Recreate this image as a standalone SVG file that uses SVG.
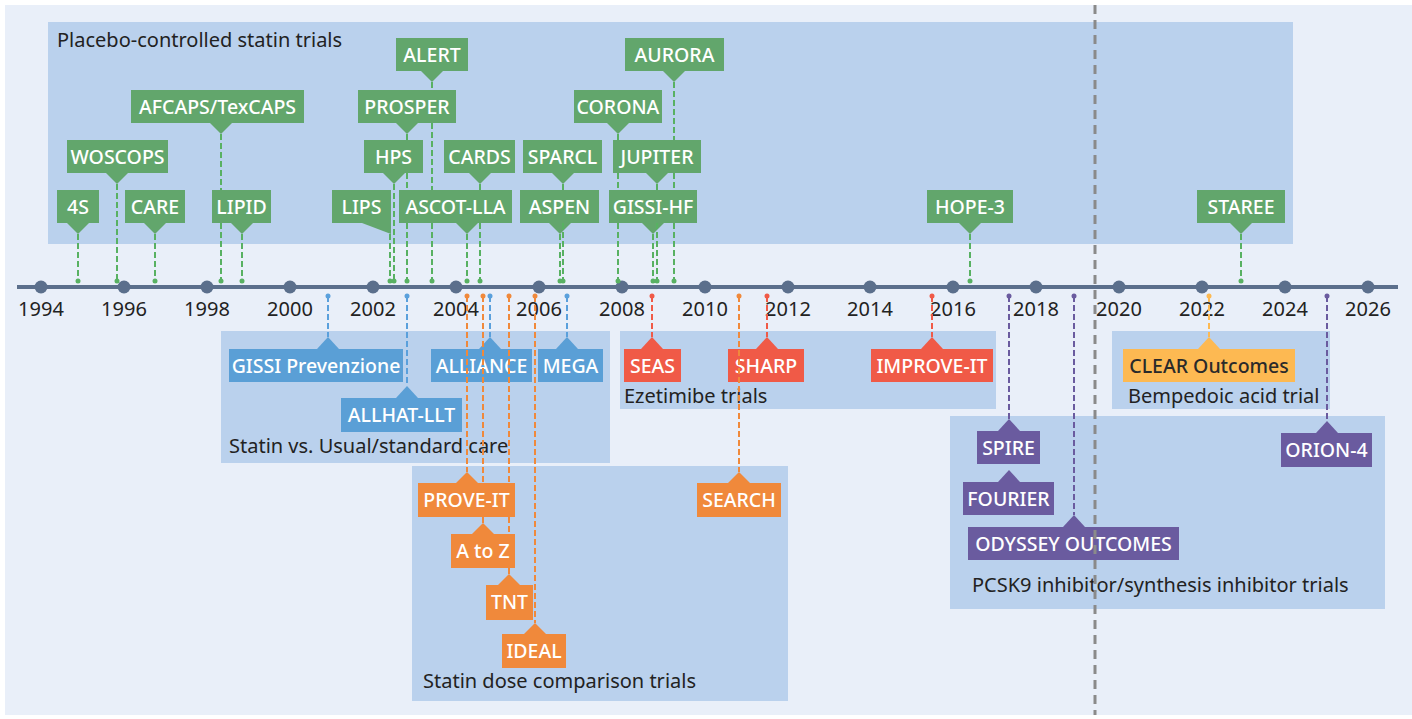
<svg xmlns="http://www.w3.org/2000/svg" width="1412" height="719" viewBox="0 0 1412 719">
<style>
text{font-family:"Noto Sans","Liberation Sans",sans-serif;}
.reg{fill:#bad1ed;}
.rl{font-size:20px;fill:#222;}
.yr{font-size:20px;fill:#222;text-anchor:middle;}
.nt{font-size:19.5px;font-weight:500;fill:#fff;text-anchor:middle;}
.g{fill:#62a66c;} .b{fill:#5a9fd6;} .o{fill:#f0893b;} .r{fill:#f05a47;} .p{fill:#6a5b9f;} .y{fill:#fdb952;}
.cg{stroke:#58b162;} .cb{stroke:#5aa0dc;} .co{stroke:#f0893b;} .cr{stroke:#f05a47;} .cp{stroke:#6a5b9f;} .cy{stroke:#fdb952;}
.c{fill:none;stroke-width:2;stroke-dasharray:6,3;}
.dg{fill:#58b162;} .db{fill:#5aa0dc;} .do{fill:#f0893b;} .dr{fill:#f05a47;} .dp{fill:#6a5b9f;} .dy{fill:#fdb952;}
.ax{fill:#5b6f8c;}
</style>
<rect x="0" y="0" width="1412" height="719" fill="#ffffff"/>
<rect x="5" y="5" width="1407" height="710" fill="#e9eff9"/>

<g id="regions">
<rect class="reg" x="48" y="22" width="1245" height="222"/>
<text class="rl" x="57" y="47">Placebo-controlled statin trials</text>
<rect class="reg" x="221" y="331" width="389" height="132"/>
<text class="rl" x="229" y="453">Statin vs. Usual/standard care</text>
<rect class="reg" x="412" y="466" width="376" height="235"/>
<text class="rl" x="423" y="688">Statin dose comparison trials</text>
<rect class="reg" x="620" y="331" width="376" height="78"/>
<text class="rl" x="624" y="403">Ezetimibe trials</text>
<rect class="reg" x="1112" y="331" width="218" height="78"/>
<text class="rl" x="1128" y="403">Bempedoic acid trial</text>
<rect class="reg" x="950" y="416" width="435" height="193"/>
<text class="rl" x="972" y="592">PCSK9 inhibitor/synthesis inhibitor trials</text>
</g>

<g id="timeline">
<rect class="ax" x="17" y="285" width="1381" height="4"/>
<g class="ax">
<circle cx="41" cy="287" r="6.5"/><circle cx="124" cy="287" r="6.5"/><circle cx="207" cy="287" r="6.5"/><circle cx="290" cy="287" r="6.5"/>
<circle cx="373" cy="287" r="6.5"/><circle cx="456" cy="287" r="6.5"/><circle cx="539" cy="287" r="6.5"/><circle cx="622" cy="287" r="6.5"/>
<circle cx="705" cy="287" r="6.5"/><circle cx="788" cy="287" r="6.5"/><circle cx="870" cy="287" r="6.5"/><circle cx="953" cy="287" r="6.5"/>
<circle cx="1036" cy="287" r="6.5"/><circle cx="1119" cy="287" r="6.5"/><circle cx="1202" cy="287" r="6.5"/><circle cx="1285" cy="287" r="6.5"/>
<circle cx="1368" cy="287" r="6.5"/>
</g>
<text class="yr" x="41" y="316">1994</text><text class="yr" x="124" y="316">1996</text><text class="yr" x="207" y="316">1998</text>
<text class="yr" x="290" y="316">2000</text><text class="yr" x="373" y="316">2002</text><text class="yr" x="456" y="316">2004</text>
<text class="yr" x="539" y="316">2006</text><text class="yr" x="622" y="316">2008</text><text class="yr" x="705" y="316">2010</text>
<text class="yr" x="788" y="316">2012</text><text class="yr" x="870" y="316">2014</text><text class="yr" x="953" y="316">2016</text>
<text class="yr" x="1036" y="316">2018</text><text class="yr" x="1119" y="316">2020</text><text class="yr" x="1202" y="316">2022</text>
<text class="yr" x="1285" y="316">2024</text><text class="yr" x="1368" y="316">2026</text>
</g>

<!-- green nodes -->
<g id="n-4S"><rect class="g" x="57" y="190" width="42" height="33"/><polygon class="g" points="67,223 89,223 78,234"/><text class="nt" x="78" y="214">4S</text></g>
<g id="n-WOSCOPS"><rect class="g" x="67" y="140" width="101" height="33"/><polygon class="g" points="106,173 128,173 117,184"/><text class="nt" x="117.5" y="164">WOSCOPS</text></g>
<g id="n-CARE"><rect class="g" x="125" y="190" width="60" height="33"/><polygon class="g" points="144,223 166,223 155,234"/><text class="nt" x="155" y="214">CARE</text></g>
<g id="n-AFCAPS"><rect class="g" x="131" y="90" width="173" height="33"/><polygon class="g" points="210,123 232,123 221,134"/><text class="nt" x="217.5" y="114">AFCAPS/TexCAPS</text></g>
<g id="n-LIPID"><rect class="g" x="212" y="190" width="59" height="33"/><polygon class="g" points="231,223 253,223 242,234"/><text class="nt" x="241.5" y="214">LIPID</text></g>
<g id="n-ALERT"><rect class="g" x="396" y="38" width="72" height="33"/><polygon class="g" points="421,71 443,71 432,82"/><text class="nt" x="432" y="62">ALERT</text></g>
<g id="n-PROSPER"><rect class="g" x="358" y="90" width="98" height="33"/><polygon class="g" points="396,123 418,123 407,134"/><text class="nt" x="407" y="114">PROSPER</text></g>
<g id="n-HPS"><rect class="g" x="364" y="140" width="59" height="33"/><polygon class="g" points="383,173 405,173 394,184"/><text class="nt" x="393.5" y="164">HPS</text></g>
<g id="n-LIPS"><rect class="g" x="332" y="190" width="59" height="33"/><polygon class="g" points="362,223 391,223 391,234"/><text class="nt" x="361.5" y="214">LIPS</text></g>
<g id="n-ASCOT-LLA"><rect class="g" x="399" y="190" width="113" height="33"/><polygon class="g" points="456,223 478,223 467,234"/><text class="nt" x="455.5" y="214">ASCOT-LLA</text></g>
<g id="n-CARDS"><rect class="g" x="444" y="140" width="71" height="33"/><polygon class="g" points="469,173 491,173 480,184"/><text class="nt" x="479.5" y="164">CARDS</text></g>
<g id="n-SPARCL"><rect class="g" x="523" y="140" width="79" height="33"/><polygon class="g" points="552,173 574,173 563,184"/><text class="nt" x="562.5" y="164">SPARCL</text></g>
<g id="n-ASPEN"><rect class="g" x="520" y="190" width="79" height="33"/><polygon class="g" points="549,223 571,223 560,234"/><text class="nt" x="559.5" y="214">ASPEN</text></g>
<g id="n-CORONA"><rect class="g" x="574" y="90" width="88" height="33"/><polygon class="g" points="607,123 629,123 618,134"/><text class="nt" x="618" y="114">CORONA</text></g>
<g id="n-AURORA"><rect class="g" x="625" y="38" width="99" height="33"/><polygon class="g" points="663,71 685,71 674,82"/><text class="nt" x="674.5" y="62">AURORA</text></g>
<g id="n-JUPITER"><rect class="g" x="613" y="140" width="88" height="33"/><polygon class="g" points="646,173 668,173 657,184"/><text class="nt" x="657" y="164">JUPITER</text></g>
<g id="n-GISSI-HF"><rect class="g" x="609" y="190" width="88" height="33"/><polygon class="g" points="642,223 664,223 653,234"/><text class="nt" x="653" y="214">GISSI-HF</text></g>
<g id="n-HOPE-3"><rect class="g" x="927" y="190" width="86" height="33"/><polygon class="g" points="959,223 981,223 970,234"/><text class="nt" x="970" y="214">HOPE-3</text></g>
<g id="n-STAREE"><rect class="g" x="1197" y="190" width="88" height="33"/><polygon class="g" points="1230,223 1252,223 1241,234"/><text class="nt" x="1241" y="214">STAREE</text></g>

<!-- blue nodes -->
<g id="n-GISSI-P"><rect class="b" x="229" y="349" width="174" height="33"/><polygon class="b" points="317,349 339,349 328,337"/><text class="nt" x="316" y="373">GISSI Prevenzione</text></g>
<g id="n-ALLHAT"><rect class="b" x="341" y="398" width="121" height="34"/><polygon class="b" points="396,398 418,398 407,386"/><text class="nt" x="401.5" y="422">ALLHAT-LLT</text></g>
<g id="n-ALLIANCE"><rect class="b" x="431" y="349" width="101" height="33"/><polygon class="b" points="479,349 501,349 490,337"/><text class="nt" x="481.5" y="373">ALLIANCE</text></g>
<g id="n-MEGA"><rect class="b" x="538" y="349" width="65" height="33"/><polygon class="b" points="556,349 578,349 567,337"/><text class="nt" x="570.5" y="373">MEGA</text></g>

<!-- orange nodes -->
<g id="n-PROVE-IT"><rect class="o" x="418" y="483" width="97" height="34"/><polygon class="o" points="456,483 478,483 467,472"/><text class="nt" x="466.5" y="507">PROVE-IT</text></g>
<g id="n-AtoZ"><rect class="o" x="451" y="534" width="64" height="34"/><polygon class="o" points="472,534 494,534 483,523"/><text class="nt" x="483" y="558">A to Z</text></g>
<g id="n-TNT"><rect class="o" x="486" y="585" width="47" height="35"/><polygon class="o" points="498,585 520,585 509,574"/><text class="nt" x="509.5" y="609">TNT</text></g>
<g id="n-IDEAL"><rect class="o" x="502" y="634" width="64" height="34"/><polygon class="o" points="524,634 546,634 535,623"/><text class="nt" x="534" y="658">IDEAL</text></g>
<g id="n-SEARCH"><rect class="o" x="697" y="483" width="84" height="34"/><polygon class="o" points="728,483 750,483 739,472"/><text class="nt" x="739" y="507">SEARCH</text></g>

<!-- red nodes -->
<g id="n-SEAS"><rect class="r" x="624" y="349" width="57" height="33"/><polygon class="r" points="641,349 663,349 652,337"/><text class="nt" x="652.5" y="373">SEAS</text></g>
<g id="n-SHARP"><rect class="r" x="728" y="349" width="76" height="33"/><polygon class="r" points="756,349 778,349 767,337"/><text class="nt" x="766" y="373">SHARP</text></g>
<g id="n-IMPROVE-IT"><rect class="r" x="871" y="349" width="122" height="33"/><polygon class="r" points="921,349 943,349 932,337"/><text class="nt" x="932" y="373">IMPROVE-IT</text></g>

<!-- yellow node -->
<g id="n-CLEAR"><rect class="y" x="1123" y="349" width="172" height="33"/><polygon class="y" points="1198,349 1220,349 1209,337"/><text class="nt" x="1209" y="373" style="fill:#2a2a2a">CLEAR Outcomes</text></g>

<!-- purple nodes -->
<g id="n-SPIRE"><rect class="p" x="977" y="431" width="63" height="33"/><polygon class="p" points="998,431 1020,431 1009,419"/><text class="nt" x="1008.5" y="455">SPIRE</text></g>
<g id="n-FOURIER"><rect class="p" x="963" y="482" width="91" height="33"/><polygon class="p" points="998,482 1020,482 1009,470"/><text class="nt" x="1008.5" y="506">FOURIER</text></g>
<g id="n-ODYSSEY"><rect class="p" x="968" y="527" width="211" height="33"/><polygon class="p" points="1063,527 1085,527 1074,515"/><text class="nt" x="1073.5" y="551">ODYSSEY OUTCOMES</text></g>
<g id="n-ORION-4"><rect class="p" x="1281" y="433" width="91" height="34"/><polygon class="p" points="1316,433 1338,433 1327,421"/><text class="nt" x="1326.5" y="457">ORION-4</text></g>

<g id="connectors">
<g class="c cg">
<path d="M78,234V281M117,184V281M155,234V281M221,134V190M221,223V281M242,234V281"/>
<path d="M432,82V90M432,123V190M432,223V281M407,134V140M407,173V190M407,223V281M394,184V281M390,234V281"/>
<path d="M467,234V281M480,184V190M480,223V281M563,184V190M563,223V281M560,234V281"/>
<path d="M618,134V140M618,173V190M618,223V281M674,82V140M674,173V190M674,223V281M657,184V190M657,223V281M653,234V281"/>
<path d="M970,234V281M1241,234V281"/>
</g>
<g class="dg">
<circle cx="78" cy="281" r="2.5"/><circle cx="117" cy="281" r="2.5"/><circle cx="155" cy="281" r="2.5"/><circle cx="221" cy="281" r="2.5"/><circle cx="242" cy="281" r="2.5"/>
<circle cx="390" cy="281" r="2.5"/><circle cx="394" cy="281" r="2.5"/><circle cx="407" cy="281" r="2.5"/><circle cx="432" cy="281" r="2.5"/><circle cx="467" cy="281" r="2.5"/><circle cx="480" cy="281" r="2.5"/>
<circle cx="560" cy="281" r="2.5"/><circle cx="563" cy="281" r="2.5"/><circle cx="618" cy="281" r="2.5"/><circle cx="653" cy="281" r="2.5"/><circle cx="657" cy="281" r="2.5"/><circle cx="674" cy="281" r="2.5"/>
<circle cx="970" cy="281" r="2.5"/><circle cx="1241" cy="281" r="2.5"/>
</g>
<path class="c cb" d="M328,296V337M407,296V386M490,296V337M567,296V337"/>
<g class="db"><circle cx="328" cy="296" r="2.5"/><circle cx="407" cy="296" r="2.5"/><circle cx="490" cy="296" r="2.5"/><circle cx="567" cy="296" r="2.5"/></g>
<path class="c co" d="M467,296V472M483,296V483M483,517V523M509,296V483M509,517V534M509,568V574M535,296V623M739,296V472"/>
<g class="do"><circle cx="467" cy="296" r="2.5"/><circle cx="483" cy="296" r="2.5"/><circle cx="509" cy="296" r="2.5"/><circle cx="535" cy="296" r="2.5"/><circle cx="739" cy="296" r="2.5"/></g>
<path class="c cr" d="M652,296V337M767,296V337M932,296V337"/>
<g class="dr"><circle cx="652" cy="296" r="2.5"/><circle cx="767" cy="296" r="2.5"/><circle cx="932" cy="296" r="2.5"/></g>
<path class="c cp" d="M1009,296V419M1074,296V515M1327,296V421"/>
<g class="dp"><circle cx="1009" cy="296" r="2.5"/><circle cx="1074" cy="296" r="2.5"/><circle cx="1327" cy="296" r="2.5"/></g>
<path class="c cy" d="M1209,296V337"/>
<g class="dy"><circle cx="1209" cy="296" r="2.5"/></g>
</g>

<g id="divider">
<line x1="1095" y1="5" x2="1095" y2="715" stroke="#8a8a8a" stroke-width="3" stroke-dasharray="9,6"/>
</g>
</svg>
